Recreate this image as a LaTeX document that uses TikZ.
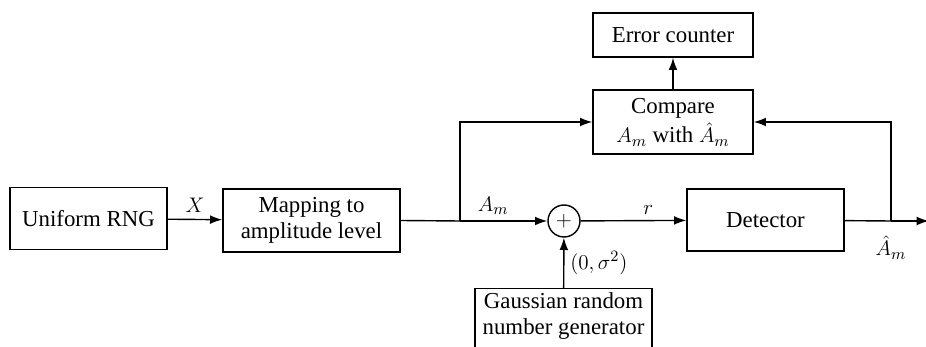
\documentclass[tikz,border=0pt]{standalone}
\usepackage{fontspec}
\setmainfont{Liberation Serif}
\usetikzlibrary{arrows.meta}

\tikzset{
  txt/.style={font=\fontsize{13}{15}\selectfont},
  blockbox/.style={draw, line width=0.8pt, align=center, inner sep=2pt, txt},
  sumnode/.style={draw, circle, line width=0.8pt, minimum size=0.64cm, inner sep=0pt, txt},
  wire/.style={line width=0.8pt},
  sig/.style={wire, -{Latex[length=7pt,width=5pt]}},
}

\begin{document}
\begin{tikzpicture}[x=0.02cm,y=-0.02cm]
  \useasboundingbox (0,0) rectangle (926,347);
  \clip (0,0) rectangle (926,347);

  % blocks
  \node[blockbox, minimum width=3.14cm, minimum height=1.24cm] (urng) at (88.5,218.5) {Uniform RNG};
  \node[blockbox, minimum width=3.54cm, minimum height=1.26cm] (map) at (311.5,220.5) {Mapping to\\amplitude level};
  \node[blockbox, minimum width=3.2cm, minimum height=1.28cm] (cmp) at (673,122) {Compare\\[2pt]$A_m$ with $\hat{A}_m$};
  \node[blockbox, minimum width=3.2cm, minimum height=0.88cm] (err) at (673,35) {Error counter};
  \node[sumnode] (sum) at (564,221) {$+$};
  \node[blockbox, minimum width=3.14cm, minimum height=1.24cm] (det) at (765.5,220) {Detector};
  \node[blockbox, anchor=north, minimum width=3.54cm, minimum height=1.5cm, text depth=14pt] (gauss) at (563.5,288) {Gaussian random\\number generator};

  % branch points
  \coordinate (split) at (460,221);
  \coordinate (tap) at (891,221);
  \coordinate (out) at (929,221);

  % signal path
  \draw[sig] (urng) -- node[above, txt] {$X$} (map);
  \draw[wire] (map.east) -- (split);
  \draw[sig] (split) -- node[above, txt, pos=0.38] {$A_m$} (sum);
  \draw[sig] (sum) -- node[above, txt, pos=0.64] {$r$} (det);
  \draw[wire] (det) -- (tap);
  \draw[sig] (tap) -- (out);
  \node[txt, below=5pt] (ahat) at (tap) {$\hat{A}_m$};
  \draw[sig] (gauss) -- node[right, txt] {$(0,\sigma^2)$} (sum);

  % comparison
  \draw[sig] (split) |- (cmp.west);
  \draw[sig] (tap) |- (cmp.east);
  \draw[sig] (cmp) -- (err);
\end{tikzpicture}
\end{document}
